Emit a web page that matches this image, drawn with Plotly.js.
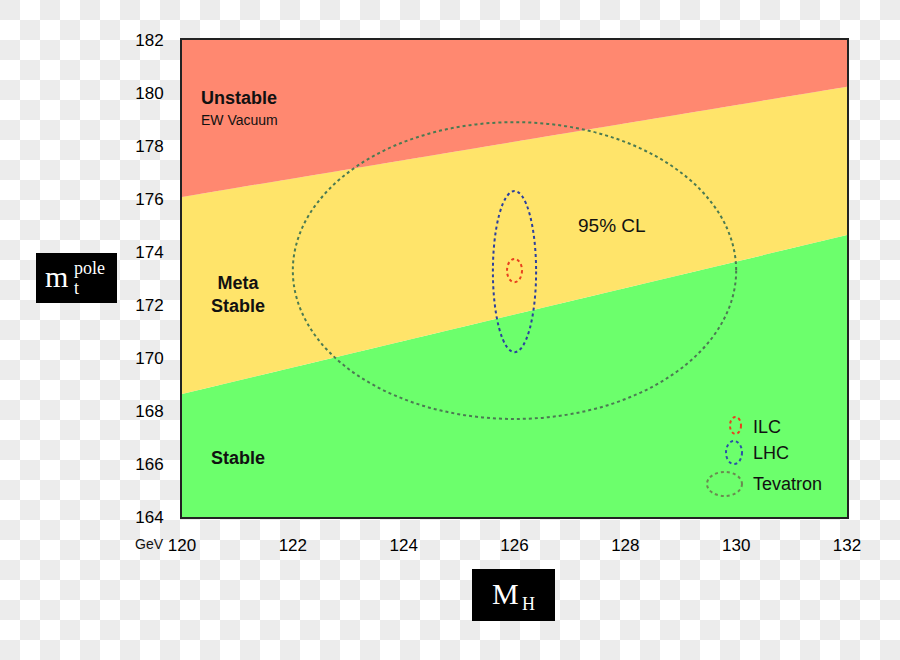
<!DOCTYPE html>
<html>
<head>
<meta charset="utf-8">
<script src="https://cdn.plot.ly/plotly-3.0.1.min.js"></script>
<style>
  html, body { margin: 0; padding: 0; }
  body {
    width: 900px; height: 660px;
    background: repeating-conic-gradient(#fff 0 25%, #ececec 0 50%) 0 0 / 40px 40px;
  }
  #chart { width: 900px; height: 660px; }
</style>
</head>
<body>
<div id="chart"></div>
<script>
// axis ticks
var xTicks = [120, 122, 124, 126, 128, 130, 132];
var yTicks = [164, 166, 168, 170, 172, 174, 176, 178, 180, 182];

// stability boundaries (Higgs mass -> top pole mass)
var boundX = [120, 132];
var bottomY = [164, 164];
var metaY = [168.64, 174.64];     // stable / meta-stable
var unstableY = [176.08, 180.24]; // meta-stable / unstable
var topY = [182, 182];

// 95% CL ellipses
var expNames = ['ILC', 'LHC', 'Tevatron'];
var centerMH = [126.0, 126.0, 126.0];
var centerMt = [173.3, 173.26, 173.3];
var halfMH = [0.135, 0.39, 4.0];
var halfMt = [0.44, 3.04, 5.6];
var expColors = ['#e8401e', '#2b3f9e', '#4b7a52'];
var legendColors = ['#e8401e', '#2b4fa8', '#6a8a50'];

var regionColors = ['#6cff6c', '#ffe46a', '#ff8870'];

// pixel helpers for decoration placement (plot area 182..847 x 40..517)
function px2x(p) { return 120 + (p - 182) * 12 / 665; }
function px2y(p) { return 164 + (517 - p) * 18 / 477; }
function paperX(p) { return (p - 182) / 665; }
function paperY(p) { return (517 - p) / 477; }

var base = { x: boundX, mode: 'lines', line: { width: 0 }, hoverinfo: 'skip', showlegend: false };
var data = [
  Object.assign({}, base, { y: bottomY }),
  Object.assign({}, base, { y: metaY, fill: 'tonexty', fillcolor: regionColors[0] }),
  Object.assign({}, base, { y: unstableY, fill: 'tonexty', fillcolor: regionColors[1] }),
  Object.assign({}, base, { y: topY, fill: 'tonexty', fillcolor: regionColors[2] })
];

var shapes = [];
for (var i = 0; i < expNames.length; i++) {
  shapes.push({
    type: 'circle', xref: 'x', yref: 'y', layer: 'above',
    x0: centerMH[i] - halfMH[i], x1: centerMH[i] + halfMH[i],
    y0: centerMt[i] - halfMt[i], y1: centerMt[i] + halfMt[i],
    line: { color: expColors[i], width: 2, dash: '3px,3px' }
  });
}

// legend icons
var iconCx = [735.5, 734, 724.5], iconCy = [425.5, 452.5, 484];
var iconRx = [5.5, 8, 17.5], iconRy = [8.5, 11.5, 12];
var annotations = [];
for (var j = 0; j < expNames.length; j++) {
  shapes.push({
    type: 'circle', xref: 'x', yref: 'y', layer: 'above',
    x0: px2x(iconCx[j] - iconRx[j]), x1: px2x(iconCx[j] + iconRx[j]),
    y0: px2y(iconCy[j] + iconRy[j]), y1: px2y(iconCy[j] - iconRy[j]),
    line: { color: legendColors[j], width: 2, dash: '3px,3px' }
  });
  annotations.push({
    text: expNames[j], x: px2x(751), y: px2y([427, 453, 484][j]),
    xanchor: 'left', yanchor: 'middle', showarrow: false,
    font: { size: 18, color: '#111' }
  });
}

// black axis title boxes
shapes.push({ type: 'rect', xref: 'paper', yref: 'paper', layer: 'above',
  x0: paperX(36), x1: paperX(117), y0: paperY(303), y1: paperY(253),
  fillcolor: '#000', line: { width: 0 } });
shapes.push({ type: 'rect', xref: 'paper', yref: 'paper', layer: 'above',
  x0: paperX(472), x1: paperX(555), y0: paperY(621), y1: paperY(569),
  fillcolor: '#000', line: { width: 0 } });

var serif = 'Liberation Serif, Times New Roman, serif';
var sans = 'Liberation Sans, Arial, Helvetica, sans-serif';
function paperNote(txt, px, py, size, fam, anchor) {
  return { text: txt, xref: 'paper', yref: 'paper', x: paperX(px), y: paperY(py),
    xanchor: anchor || 'left', yanchor: 'middle', showarrow: false,
    font: { size: size, family: fam, color: '#fff' } };
}
annotations.push(paperNote('m', 43, 276, 30, serif));
annotations.push(paperNote('pole', 72, 268, 18, serif));
annotations.push(paperNote('t', 72, 288, 18, serif));
annotations.push(paperNote('M', 490, 593, 30, serif));
annotations.push(paperNote('H', 520, 604, 18, serif));

var gev = paperNote('GeV', 166, 544, 14, sans, 'right');
gev.font.color = '#111';
annotations.push(gev);

// region labels
function dataNote(txt, px, py, size, bold) {
  return { text: bold ? '<b>' + txt + '</b>' : txt, x: px2x(px), y: px2y(py),
    xanchor: 'center', yanchor: 'middle', showarrow: false,
    font: { size: size, color: '#111', family: sans } };
}
annotations.push(dataNote('Unstable', 239, 98, 18, true));
annotations.push(dataNote('EW Vacuum', 239, 120, 14, false));
annotations.push(dataNote('Meta<br>Stable', 238, 294, 18, true));
annotations.push(dataNote('Stable', 238, 458, 18, true));
annotations.push(dataNote('95% CL', 612, 225, 19, false));

var layout = {
  width: 900, height: 660,
  margin: { l: 182, r: 53, t: 40, b: 143 },
  paper_bgcolor: 'rgba(0,0,0,0)',
  plot_bgcolor: 'rgba(0,0,0,0)',
  font: { family: sans, color: '#111' },
  showlegend: false,
  xaxis: {
    range: [120, 132], tickvals: xTicks, ticktext: xTicks.map(String),
    ticks: '', ticklabelstandoff: 12, tickfont: { size: 17, color: '#000' },
    showgrid: false, zeroline: false, showline: true, mirror: true,
    linecolor: '#222', linewidth: 2
  },
  yaxis: {
    range: [164, 182], tickvals: yTicks,
    ticks: '', ticklabelstandoff: 13, tickfont: { size: 17, color: '#000' },
    showgrid: false, zeroline: false, showline: true, mirror: true,
    linecolor: '#222', linewidth: 2
  },
  shapes: shapes,
  annotations: annotations
};

Plotly.newPlot('chart', data, layout, { displayModeBar: false, staticPlot: true });
</script>
</body>
</html>
